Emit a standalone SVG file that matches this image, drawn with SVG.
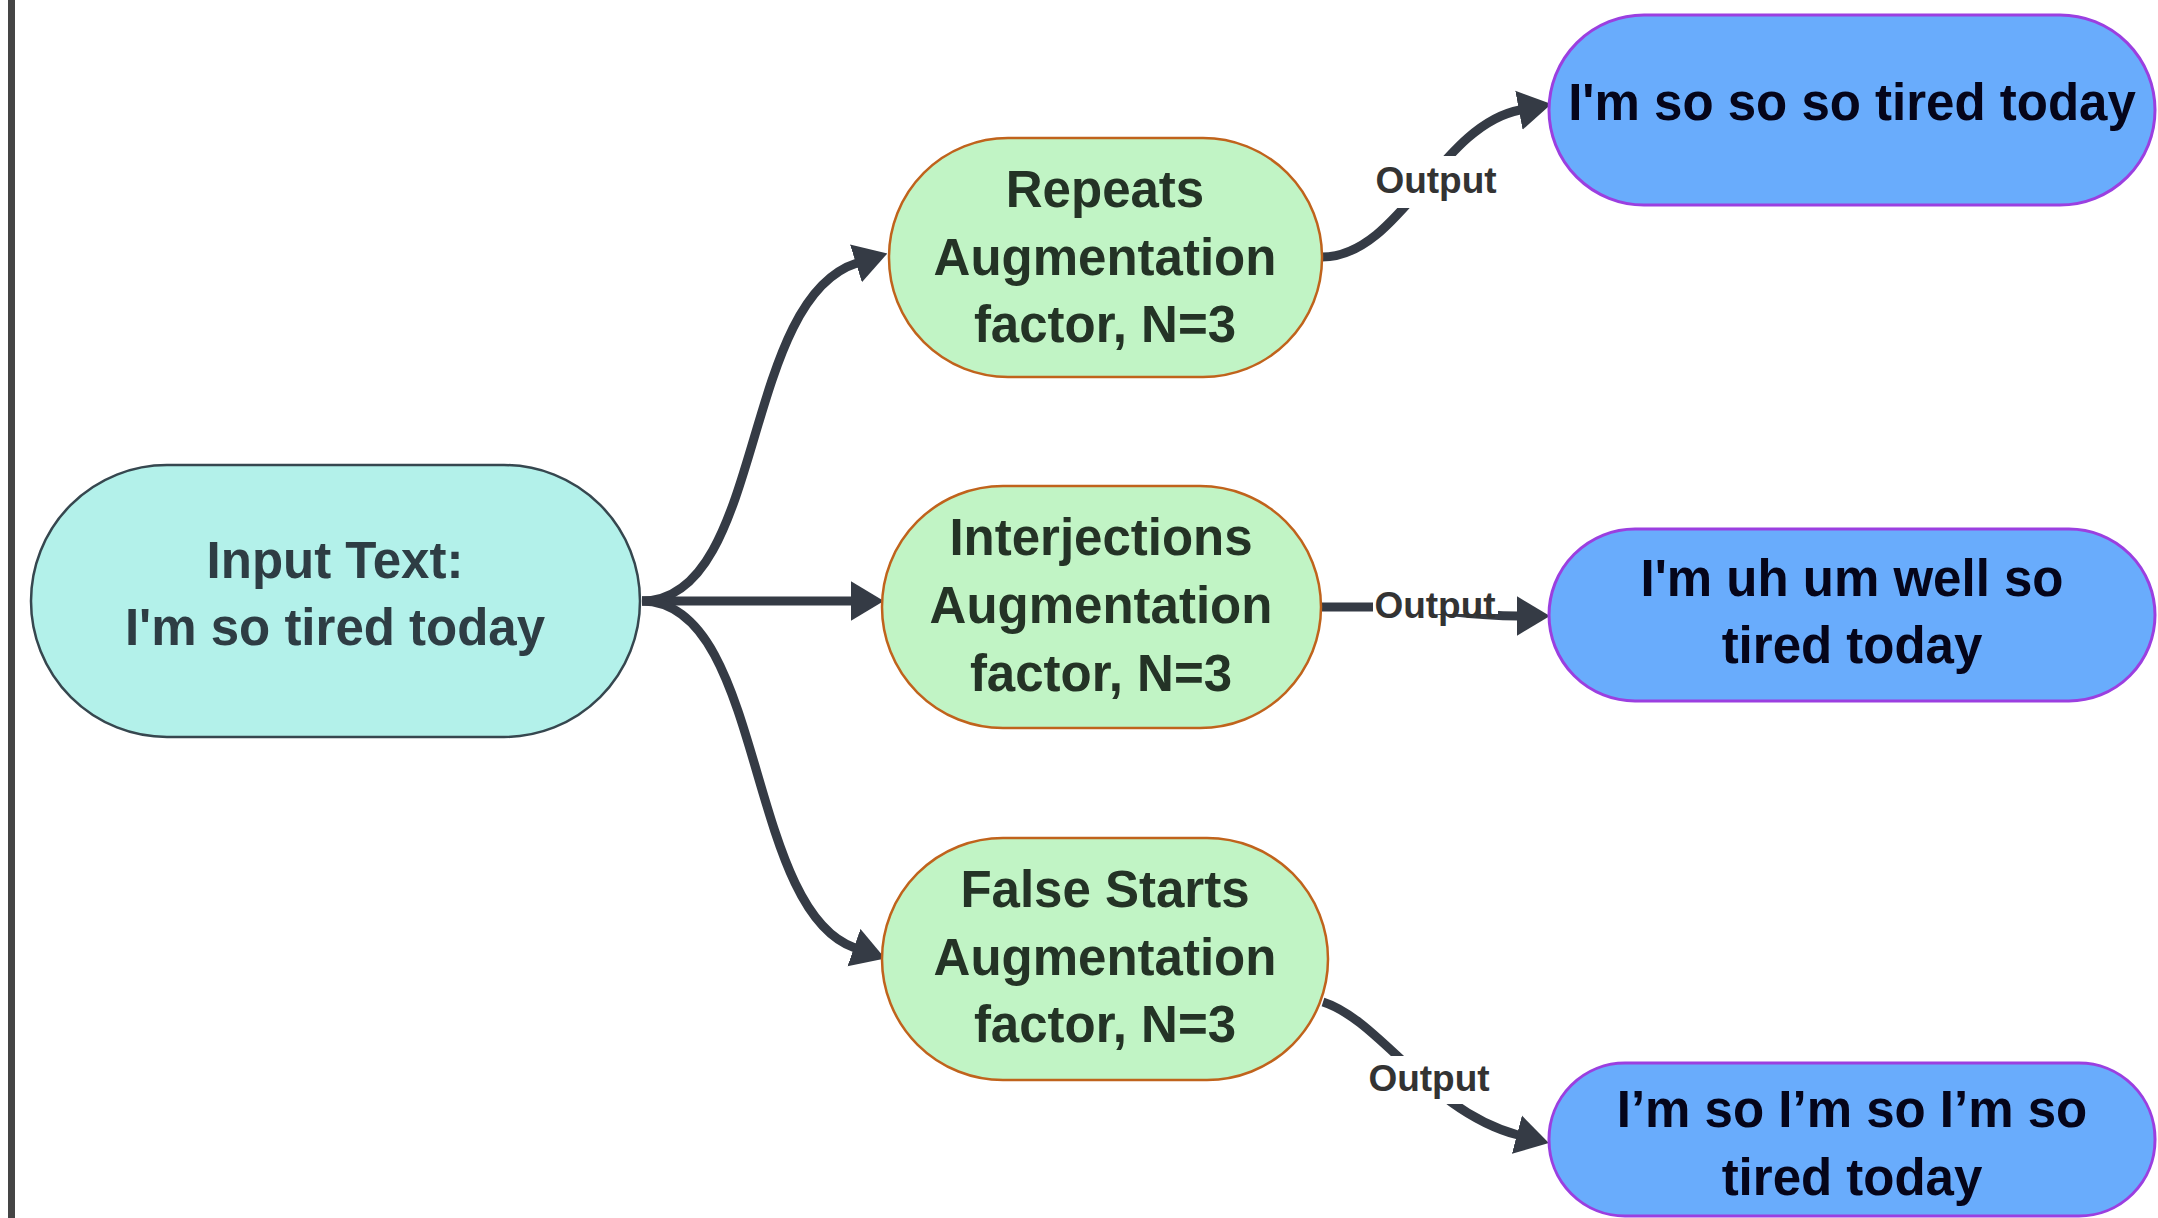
<svg xmlns="http://www.w3.org/2000/svg" width="2158" height="1218" viewBox="0 0 2158 1218">
  <style>
    .t { font-family: "Liberation Sans", Arial, sans-serif; font-weight: bold; text-anchor: middle; }
    .in { fill: #b3f1ea; stroke: #36474f; stroke-width: 2.5; }
    .aug { fill: #c1f4c5; stroke: #c0631c; stroke-width: 2.5; }
    .out { fill: #69acfc; stroke: #9b3fe0; stroke-width: 3; }
    .tin { fill: #2e3d44; font-size: 51px; }
    .taug { fill: #243326; font-size: 51px; }
    .tout { fill: #05051a; font-size: 51px; }
    .conn { fill: none; stroke: #353b45; stroke-width: 9; }
    .lbl { fill: #333333; font-size: 37px; }
    .lblbg { fill: #ffffff; }
  </style>
  <defs>
    <marker id="arrow" markerUnits="userSpaceOnUse" markerWidth="33" markerHeight="40" viewBox="0 0 30 36" refX="1" refY="18" orient="auto">
      <path d="M0,0 L30,18 L0,36 Z" fill="#353b45"/>
    </marker>
  </defs>
  <rect x="0" y="0" width="2158" height="1218" fill="#ffffff"/>
  <rect x="8" y="0" width="7" height="1218" fill="#454545"/>

  <g id="connectors">
    <path class="conn" d="M642 601 C765 601 740 300 857 263" marker-end="url(#arrow)"/>
    <path class="conn" d="M642 601 L852 601" marker-end="url(#arrow)"/>
    <path class="conn" d="M642 601 C765 601 745 910 855 948" marker-end="url(#arrow)"/>
    <path class="conn" d="M1322 257 C1400 257 1440 125 1520 110" marker-end="url(#arrow)"/>
    <path class="conn" d="M1322 607 L1380 607 C1440 607 1460 616 1518 616" marker-end="url(#arrow)"/>
    <path class="conn" d="M1323 1002 C1380 1020 1430 1112 1518 1135" marker-end="url(#arrow)"/>
    <rect class="lblbg" x="1367" y="156" width="138" height="52"/>
    <text class="t lbl" x="1436" y="193">Output</text>
    <rect class="lblbg" x="1373" y="588" width="125" height="26"/>
    <text class="t lbl" x="1435" y="618">Output</text>
    <rect class="lblbg" x="1361" y="1056" width="136" height="48"/>
    <text class="t lbl" x="1429" y="1091">Output</text>
  </g>

  <g id="input">
    <rect class="in" x="31" y="465" width="609" height="272" rx="136" ry="136"/>
    <text class="t tin" x="335" y="578">Input Text:</text>
    <text class="t tin" x="335" y="645">I'm so tired today</text>
  </g>

  <g id="repeats">
    <rect class="aug" x="889" y="138" width="433" height="239" rx="119" ry="119"/>
    <text class="t taug" x="1105" y="207">Repeats</text>
    <text class="t taug" x="1105" y="275">Augmentation</text>
    <text class="t taug" x="1105" y="342">factor, N=3</text>
  </g>

  <g id="interjections">
    <rect class="aug" x="882" y="486" width="439" height="242" rx="121" ry="121"/>
    <text class="t taug" x="1101" y="555">Interjections</text>
    <text class="t taug" x="1101" y="623">Augmentation</text>
    <text class="t taug" x="1101" y="691">factor, N=3</text>
  </g>

  <g id="falsestarts">
    <rect class="aug" x="882" y="838" width="446" height="242" rx="121" ry="121"/>
    <text class="t taug" x="1105" y="907">False Starts</text>
    <text class="t taug" x="1105" y="975">Augmentation</text>
    <text class="t taug" x="1105" y="1042">factor, N=3</text>
  </g>

  <g id="output1">
    <rect class="out" x="1549" y="15" width="606" height="190" rx="95" ry="95"/>
    <text class="t tout" x="1852" y="120">I'm so so so tired today</text>
  </g>

  <g id="output2">
    <rect class="out" x="1549" y="529" width="606" height="172" rx="86" ry="86"/>
    <text class="t tout" x="1852" y="596">I'm uh um well so</text>
    <text class="t tout" x="1852" y="663">tired today</text>
  </g>

  <g id="output3">
    <rect class="out" x="1549" y="1063" width="606" height="153" rx="76" ry="76"/>
    <text class="t tout" x="1852" y="1127">I’m so I’m so I’m so</text>
    <text class="t tout" x="1852" y="1195">tired today</text>
  </g>
</svg>
